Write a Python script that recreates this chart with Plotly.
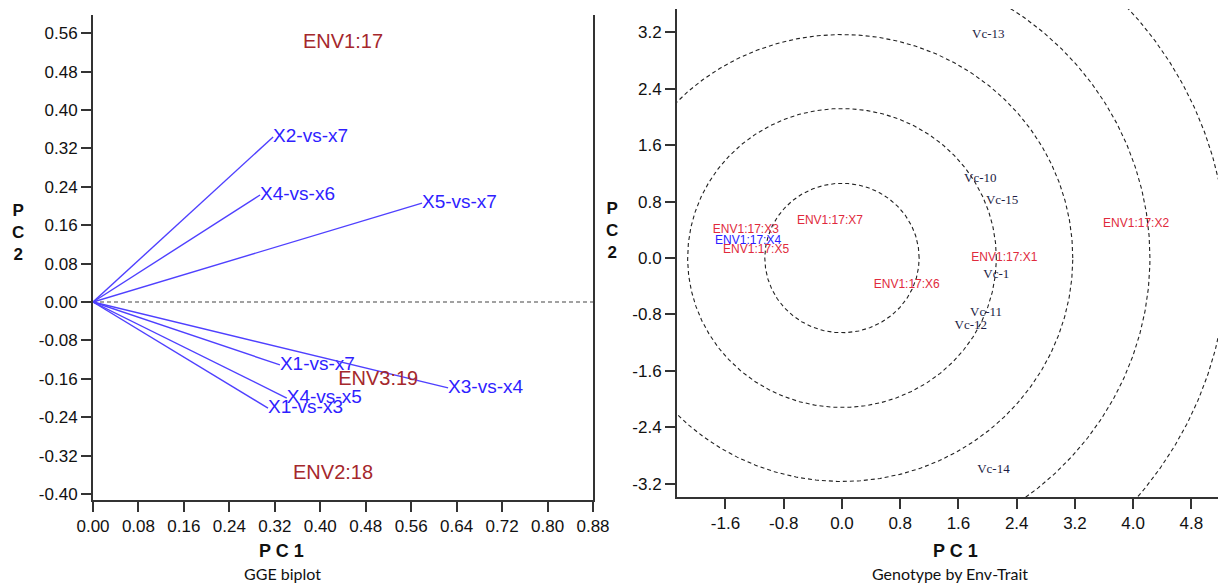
import numpy as np
import plotly.graph_objects as go

W, H = 1218, 583

# ---------------- Left panel: GGE biplot (trait-vs-trait vectors) ----------------
vec_labels = ["X2-vs-x7", "X4-vs-x6", "X5-vs-x7", "X1-vs-x7", "X4-vs-x5", "X1-vs-x3", "X3-vs-x4"]
vec_pc1 = [0.317, 0.294, 0.579, 0.329, 0.341, 0.308, 0.625]
vec_pc2 = [0.344, 0.223, 0.206, -0.131, -0.200, -0.221, -0.179]

env_labels = ["ENV1:17", "ENV3:19", "ENV2:18"]
env_pc1 = [0.440, 0.502, 0.4225]
env_pc2 = [0.540, -0.1625, -0.358]

left_xticks = [0.00, 0.08, 0.16, 0.24, 0.32, 0.40, 0.48, 0.56, 0.64, 0.72, 0.80, 0.88]
left_xtext = ["0.00", "0.08", "0.16", "0.24", "0.32", "0.40", "0.48", "0.56", "0.64", "0.72", "0.80", "0.88"]
left_yticks = [0.56, 0.48, 0.40, 0.32, 0.24, 0.16, 0.08, 0.00, -0.08, -0.16, -0.24, -0.32, -0.40]
left_ytext = ["0.56", "0.48", "0.40", "0.32", "0.24", "0.16", "0.08", "0.00", "-0.08", "-0.16", "-0.24", "-0.32", "-0.40"]

# ---------------- Right panel: Genotype by Env-Trait ----------------
trait_labels = ["ENV1:17:X3", "ENV1:17:X4", "ENV1:17:X5", "ENV1:17:X7", "ENV1:17:X6", "ENV1:17:X1", "ENV1:17:X2"]
trait_pc1 = [-1.32, -1.29, -1.18, -0.165, 0.89, 2.23, 4.04]
trait_pc2 = [0.40, 0.24, 0.11, 0.525, -0.38, 0.00, 0.48]
trait_colors = ["#e02a3c", "#2b1cff", "#e02a3c", "#e02a3c", "#e02a3c", "#e02a3c", "#e02a3c"]

geno_labels = ["Vc-13", "Vc-10", "Vc-15", "Vc-1", "Vc-11", "Vc-12", "Vc-14"]
geno_pc1 = [2.01, 1.90, 2.20, 2.12, 1.98, 1.77, 2.08]
geno_pc2 = [3.16, 1.12, 0.81, -0.24, -0.77, -0.96, -3.01]

circle_radii = [1.06, 2.12, 3.17, 4.23, 5.29]

right_xticks = [-1.6, -0.8, 0.0, 0.8, 1.6, 2.4, 3.2, 4.0, 4.8]
right_xtext = ["-1.6", "-0.8", "0.0", "0.8", "1.6", "2.4", "3.2", "4.0", "4.8"]
right_yticks = [3.2, 2.4, 1.6, 0.8, 0.0, -0.8, -1.6, -2.4, -3.2]
right_ytext = ["3.2", "2.4", "1.6", "0.8", "0.0", "-0.8", "-1.6", "-2.4", "-3.2"]

# ---------------- Figure ----------------
fig = go.Figure()

BLUE_LINE = "#4f40ff"
BLUE_TXT = "#2f1eff"
ENV_RED = "#a5282c"
AXIS = "#333333"

# zero reference line (left)
fig.add_trace(go.Scatter(x=[left_xticks[0], left_xticks[-1]], y=[0, 0], mode="lines",
                         line=dict(color="#444444", width=1.2, dash="4px,3px"),
                         xaxis="x", yaxis="y", hoverinfo="skip", showlegend=False))

for lab, px, py in zip(vec_labels, vec_pc1, vec_pc2):
    fig.add_trace(go.Scatter(x=[0, px], y=[0, py], mode="lines+text",
                             text=["", lab], textposition="middle right",
                             textfont=dict(family="Liberation Sans, Arial", size=19, color=BLUE_TXT),
                             line=dict(color=BLUE_LINE, width=1.4),
                             xaxis="x", yaxis="y", showlegend=False, cliponaxis=False))

fig.add_trace(go.Scatter(x=env_pc1, y=env_pc2, mode="text", text=env_labels,
                         textposition="middle center",
                         textfont=dict(family="Liberation Sans, Arial", size=20, color=ENV_RED),
                         xaxis="x", yaxis="y", showlegend=False, cliponaxis=False))

# concentric circles (right)
theta = np.linspace(0, 2 * np.pi, 721)
for r in circle_radii:
    fig.add_trace(go.Scatter(x=r * np.cos(theta), y=r * np.sin(theta), mode="lines",
                             line=dict(color="#222222", width=1.1, dash="4px,3px"),
                             xaxis="x2", yaxis="y2", hoverinfo="skip", showlegend=False))

fig.add_trace(go.Scatter(x=trait_pc1, y=trait_pc2, mode="text", text=trait_labels,
                         textposition="middle center",
                         textfont=dict(family="Liberation Sans, Arial", size=12, color=trait_colors),
                         xaxis="x2", yaxis="y2", showlegend=False, cliponaxis=False))

fig.add_trace(go.Scatter(x=geno_pc1, y=geno_pc2, mode="text", text=geno_labels,
                         textposition="middle center",
                         textfont=dict(family="Liberation Serif, Times New Roman", size=13, color="#1c1c44"),
                         xaxis="x2", yaxis="y2", showlegend=False, cliponaxis=False))

tickfont = dict(family="Liberation Sans, Arial", size=17, color="#111111")
axcommon = dict(showgrid=False, zeroline=False, showline=True, linecolor=AXIS, linewidth=2,
                ticks="outside", ticklen=10, tickwidth=2, tickcolor=AXIS, tickfont=tickfont,
                automargin=False)

fig.update_layout(
    template="none",
    width=W, height=H,
    margin=dict(l=0, r=0, t=0, b=0, pad=0),
    paper_bgcolor="white", plot_bgcolor="white",
    xaxis=dict(domain=[93 / W, 593 / W], range=[0, 0.88], anchor="y",
               tickvals=left_xticks, ticktext=left_xtext, **axcommon),
    yaxis=dict(domain=[(H - 500) / H, (H - 15) / H], range=[-0.4125, 0.598], anchor="x",
               tickvals=left_yticks, ticktext=left_ytext, mirror=True, **axcommon),
    xaxis2=dict(domain=[677 / W, 1.0], range=[-2.266, 5.165], anchor="y2",
                tickvals=right_xticks, ticktext=right_xtext, **axcommon),
    yaxis2=dict(domain=[(H - 497) / H, (H - 9) / H], range=[-3.39, 3.532], anchor="x2",
                tickvals=right_yticks, ticktext=right_ytext, **axcommon),
)

title_font = dict(family="Liberation Sans, Arial", size=18, color="#111111")
cap_font = dict(family="Lato, Open Sans", size=16, color="#111111")
annos = [
    dict(x=18 / W, y=1 - 232 / H, text="<b>P<br>C<br>2</b>", font=dict(family="Liberation Sans, Arial", size=17, color="#111111")),
    dict(x=612 / W, y=1 - 230 / H, text="<b>P<br>C<br>2</b>", font=dict(family="Liberation Sans, Arial", size=17, color="#111111")),
    dict(x=281 / W, y=1 - 551 / H, text="<b>P C 1</b>", font=title_font),
    dict(x=955 / W, y=1 - 551 / H, text="<b>P C 1</b>", font=title_font),
    dict(x=282 / W, y=1 - 573 / H, text="GGE biplot", font=cap_font),
    dict(x=950 / W, y=1 - 573 / H, text="Genotype by Env-Trait", font=cap_font),
]
for a in annos:
    fig.add_annotation(xref="paper", yref="paper", xanchor="center", yanchor="middle",
                       showarrow=False, **a)

fig.write_html("out.html", config={"displayModeBar": False},
               post_script="document.body.style.margin='0';document.body.style.overflow='hidden';")
